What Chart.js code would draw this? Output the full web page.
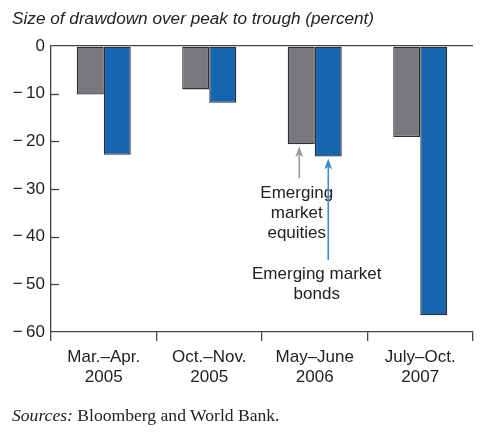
<!DOCTYPE html>
<html>
<head>
<meta charset="utf-8">
<script src="https://cdn.jsdelivr.net/npm/chart.js@4/dist/chart.umd.min.js"></script>
<style>
  html, body { margin: 0; padding: 0; background: #fff; }
  #wrap { position: relative; width: 485px; height: 442px; overflow: hidden; }
  canvas { position: absolute; left: 0; top: 0; }
  #title { position: absolute; left: 12px; top: 10px; font: italic 17.2px/17px 'Liberation Sans', Arial, sans-serif; color: #222; white-space: nowrap; }
  #source { position: absolute; left: 12px; top: 407px; font: 17.6px/17px 'Liberation Serif', 'Times New Roman', serif; color: #222; white-space: nowrap; }
</style>
</head>
<body>
<div id="wrap">
  <canvas id="c" width="485" height="442"></canvas>
  <div id="title">Size of drawdown over peak to trough (percent)</div>
  <div id="source"><i>Sources:</i> Bloomberg and World Bank.</div>
</div>
<script>
// ---- data ----
const categories = [
  ['Mar.\u2013Apr.', '2005'],
  ['Oct.\u2013Nov.', '2005'],
  ['May\u2013June', '2006'],
  ['July\u2013Oct.', '2007']
];
const seriesNames = ['Emerging market equities', 'Emerging market bonds'];
const equities = [-10.2, -9.1, -20.6, -19.1];
const bonds = [-22.8, -11.9, -23.2, -56.5];
const yTicks = [0, -10, -20, -30, -40, -50, -60];

// ---- annotation layout (styling / placement, not data) ----
const annotations = [
  { dataset: 0, index: 2, dx: -2, tailValue: -27.7, color: '#9a9a9a',
    textDx: -18, lines: ['Emerging', 'market', 'equities'], lineValues: [-30.9, -35.2, -39.4] },
  { dataset: 1, index: 2, dx: 0, tailValue: -44.9, color: '#3f8bd3',
    textDx: 2, lines: ['Emerging market', 'bonds'], lineValues: [-47.8, -52.0] }
];

const FONT = "'Liberation Sans', Arial, sans-serif";
Chart.defaults.font.family = FONT;
Chart.defaults.color = '#222';

const fmt = v => v === 0 ? '0' : '\u2212\u2009' + Math.abs(v);

const extrasPlugin = {
  id: 'extras',
  afterDatasetsDraw(chart) {
    const ctx = chart.ctx;
    const y = chart.scales.y;
    const area = chart.chartArea;
    ctx.save();
    // inward y ticks
    ctx.strokeStyle = '#444';
    ctx.lineWidth = 1.3;
    yTicks.forEach(v => {
      if (v === 0 || v === -60) return;
      const py = Math.round(y.getPixelForValue(v)) + 0.5;
      ctx.beginPath();
      ctx.moveTo(area.left, py);
      ctx.lineTo(area.left + 8, py);
      ctx.stroke();
    });
    // annotations
    annotations.forEach(a => {
      const meta = chart.getDatasetMeta(a.dataset);
      const bar = meta.data[a.index];
      const x = bar.x + a.dx;
      const tipY = bar.y + 2;
      const tailY = y.getPixelForValue(a.tailValue);
      ctx.strokeStyle = a.color;
      ctx.fillStyle = a.color;
      ctx.lineWidth = 1.6;
      ctx.beginPath();
      ctx.moveTo(x, tailY);
      ctx.lineTo(x, tipY + 6);
      ctx.stroke();
      ctx.beginPath();
      ctx.moveTo(x, tipY);
      ctx.lineTo(x + 4, tipY + 11);
      ctx.lineTo(x, tipY + 8);
      ctx.lineTo(x - 4, tipY + 11);
      ctx.closePath();
      ctx.fill();
      ctx.fillStyle = '#222';
      ctx.font = '17px ' + FONT;
      ctx.textAlign = 'center';
      ctx.textBaseline = 'middle';
      const cx = chart.scales.x.getPixelForValue(a.index) + a.textDx;
      a.lines.forEach((t, i) => {
        ctx.fillText(t, cx, y.getPixelForValue(a.lineValues[i]));
      });
    });
    ctx.restore();
  }
};

new Chart(document.getElementById('c'), {
  type: 'bar',
  data: {
    labels: categories,
    datasets: [
      { label: seriesNames[0], data: equities, backgroundColor: '#77787c', borderColor: '#2e2e2e', borderWidth: 1.3, borderSkipped: false },
      { label: seriesNames[1], data: bonds, backgroundColor: '#1565b0', borderColor: '#2e2e2e', borderWidth: 1.3, borderSkipped: false }
    ]
  },
  options: {
    responsive: false,
    animation: false,
    devicePixelRatio: 1,
    layout: { padding: { top: 46, right: 12, left: 0, bottom: 0 } },
    plugins: { legend: { display: false }, tooltip: { enabled: false } },
    datasets: { bar: { categoryPercentage: 0.512, barPercentage: 1.0 } },
    scales: {
      x: {
        offset: true,
        grid: { offset: true, drawOnChartArea: false, drawTicks: true, tickLength: 9, color: '#444', lineWidth: 1.3 },
        border: { display: true, color: '#444', width: 1.3 },
        ticks: { padding: 6, maxRotation: 0, autoSkip: false, font: { size: 17, lineHeight: 1.2 }, color: '#222' },
        afterFit: s => { s.height = 110; }
      },
      y: {
        min: -60, max: 0,
        afterBuildTicks: s => { s.ticks = yTicks.map(v => ({ value: v })); },
        grid: { drawOnChartArea: true, drawTicks: false, color: c => (c.tick && c.tick.value === 0) ? '#444' : 'rgba(0,0,0,0)', lineWidth: 1.3 },
        border: { display: true, color: '#444', width: 1.3 },
        ticks: { padding: 6, callback: v => fmt(v), font: { size: 17 }, color: '#222' },
        afterFit: s => { s.width = 51; }
      }
    }
  },
  plugins: [extrasPlugin]
});
</script>
</body>
</html>
